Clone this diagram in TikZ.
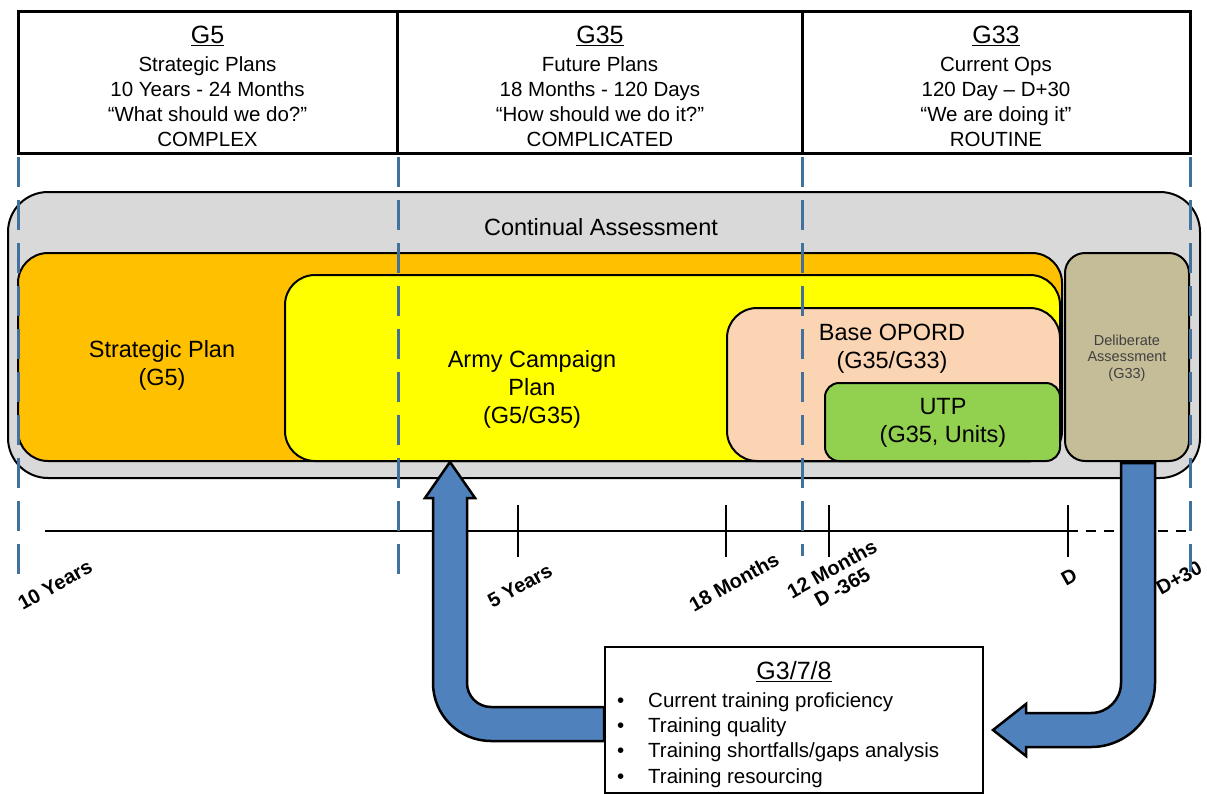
\documentclass[tikz,border=0pt]{standalone}
\usepackage{fontspec}
\setmainfont{Liberation Sans}
\definecolor{dashblue}{HTML}{41719C}
\definecolor{arrowblue}{HTML}{4F81BD}
\definecolor{cgray}{HTML}{D9D9D9}
\definecolor{corange}{HTML}{FFC000}
\definecolor{cyellow}{HTML}{FFFF00}
\definecolor{cpeach}{HTML}{FBD4B4}
\definecolor{cgreen}{HTML}{92D050}
\definecolor{ctan}{HTML}{C4BD97}
\definecolor{ctext}{HTML}{404040}
\newcommand\fhead{\fontsize{25}{28}\selectfont}
\newcommand\fbody{\fontsize{20.5}{25}\selectfont}
\newcommand\fbig{\fontsize{23.5}{28}\selectfont}
\newcommand\fsmall{\fontsize{14.5}{16.5}\selectfont}
\newcommand\flab{\fontsize{20}{21}\selectfont\bfseries}
\tikzset{
  hdrbox/.style={draw, line width=3pt, inner sep=0pt, fill=white},
  rbox/.style={draw, line width=2pt, inner sep=0pt},
  txt/.style={inner sep=0pt, align=center, text=black},
  vdash/.style={draw=dashblue, line width=3pt, dash pattern=on 30pt off 13pt},
  tline/.style={line width=2.5pt},
  bigarrow/.style={fill=arrowblue, draw=black, line width=2.5pt, line join=miter},
  tlab/.style={inner sep=0pt, align=center, rotate=29, font=\flab},
}
\begin{document}
\begin{tikzpicture}[x=1pt,y=-1pt]
\useasboundingbox (0,0) rectangle (1207,793);

% header boxes
\node[hdrbox, minimum width=379.5pt, minimum height=142pt] (hA) at (207.75,82) {};
\node[hdrbox, minimum width=405pt, minimum height=142pt] (hB) at (600,82) {};
\node[hdrbox, minimum width=387.5pt, minimum height=142pt] (hC) at (996.25,82) {};
\node[txt, font=\fhead] (hAt) at (207.5,36) {\underline{G5}};
\node[txt, font=\fbody] (hAb) at (207.5,101.5) {Strategic Plans\\10 Years - 24 Months\\“What should we do?”\\COMPLEX};
\node[txt, font=\fhead] (hBt) at (600,36) {\underline{G35}};
\node[txt, font=\fbody] (hBb) at (600,101.5) {Future Plans\\18 Months - 120 Days\\“How should we do it?”\\COMPLICATED};
\node[txt, font=\fhead] (hCt) at (996,36) {\underline{G33}};
\node[txt, font=\fbody] (hCb) at (996,101.5) {Current Ops\\120 Day – D+30\\“We are doing it”\\ROUTINE};

% nested boxes
\node[rbox, fill=cgray, rounded corners=40pt, minimum width=1192pt, minimum height=286pt] (gray) at (604,335) {};
\node[txt, font=\fbig] (cont) at (601,227) {Continual Assessment};
\node[rbox, fill=corange, rounded corners=30pt, minimum width=1044pt, minimum height=208pt] (orange) at (540,357) {};
\node[rbox, fill=cyellow, rounded corners=30pt, minimum width=775pt, minimum height=186pt] (yellow) at (672.5,368) {};
\node[rbox, fill=cpeach, rounded corners=30pt, minimum width=333pt, minimum height=153pt] (peach) at (893.5,384.5) {};
\node[rbox, fill=cgreen, rounded corners=14pt, minimum width=235pt, minimum height=78pt] (green) at (942.5,422) {};
\node[rbox, fill=ctan, rounded corners=20pt, minimum width=124pt, minimum height=208pt] (delib) at (1127,357) {};

\node[txt, font=\fbig, text depth=0pt] (sp) at (162,363) {Strategic Plan\\(G5)};
\node[txt, font=\fbig] (acp) at (532,389) {Army Campaign\\Plan\\(G5/G35)};
\node[txt, font=\fbig] (bo) at (892,349) {Base OPORD\\(G35/G33)};
\node[txt, font=\fbig] (utp) at (943,423) {UTP\\(G35, Units)};
\node[txt, font=\fsmall, text=ctext] (dat) at (1127,358) {Deliberate\\Assessment\\(G33)};

% timeline
\coordinate (t0) at (45,531);
\coordinate (tD) at (1068,531);
\coordinate (tE) at (1190,531);
\draw[tline] (t0) -- (tD);
\draw[tline, dash pattern=on 10pt off 8pt] (tD) -- (tE);
\foreach \n/\x in {k5/518, k18/726, k12/829, kD/1068} {
  \coordinate (\n a) at (\x,505);
  \coordinate (\n b) at (\x,557);
  \draw[line width=2.3pt] (\n a) -- (\n b);
}
\node[tlab] (l10) at (55,585) {10 Years};
\node[tlab] (l5) at (520,586) {5 Years};
\node[tlab] (l18) at (734,582) {18 Months};
\node[tlab] (l12) at (837,578) {12 Months\\D -365};
\node[tlab] (lD) at (1069,577) {D};
\node[tlab] (lD30) at (1179,578) {D+30};

% arrows
\draw[bigarrow] (450,462) -- (475,498) -- (467,498) -- (467,683)
  .. controls (467,696.25) and (477.75,707) .. (491,707) -- (604,707) -- (604,741) -- (491,741)
  .. controls (459,741) and (433,715) .. (433,683) -- (433,498) -- (425,498) -- cycle;
\draw[bigarrow] (1121,463) -- (1121,683)
  .. controls (1121,699.6) and (1107.6,713) .. (1091,713) -- (1026,713) -- (1026,704) -- (993,730)
  -- (1026,756) -- (1026,747) -- (1091,747)
  .. controls (1126.3,747) and (1155,718.3) .. (1155,683) -- (1155,463) -- cycle;

% G3/7/8 box
\node[draw, line width=2.5pt, fill=white, inner sep=0pt, minimum width=378pt, minimum height=146pt] (g378) at (794,720) {};
\node[txt, font=\fontsize{25}{28}\selectfont] (g378t) at (794,672) {\underline{G3/7/8}};
\node[inner sep=0pt, align=left, anchor=west, font=\fontsize{20.5}{25.3}\selectfont] (g378b) at (617,740)
 {\makebox[31pt][l]{\textbullet}Current training proficiency\\
  \makebox[31pt][l]{\textbullet}Training quality\\
  \makebox[31pt][l]{\textbullet}Training shortfalls/gaps analysis\\
  \makebox[31pt][l]{\textbullet}Training resourcing};

% dashed division lines
\foreach \n/\x/\e in {dA/18/578, dB/398/575, dC/802/556, dD/1190/572} {
  \coordinate (\n a) at (\x,157);
  \coordinate (\n b) at (\x,\e);
  \draw[vdash] (\n a) -- (\n b);
}
\end{tikzpicture}
\end{document}
